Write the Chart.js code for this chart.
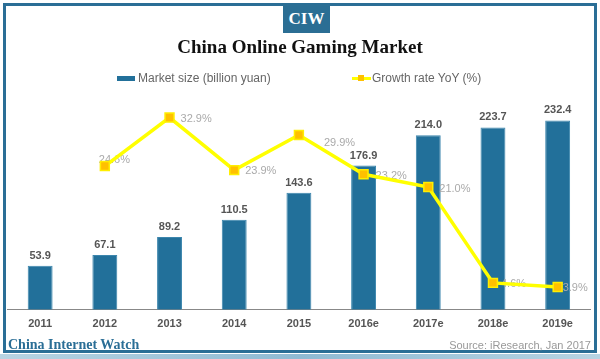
<!DOCTYPE html>
<html>
<head>
<meta charset="utf-8">
<script src="https://cdn.jsdelivr.net/npm/chart.js@4/dist/chart.umd.min.js"></script>
<style>
  html, body { margin: 0; padding: 0; background: #fff; }
  #wrap { position: relative; width: 600px; height: 359px; overflow: hidden; background: #fff; }
  #frame { position: absolute; left: 3px; top: 3px; width: 588px; height: 344px; border: 3px solid #2a6e96; }
  #strip { position: absolute; left: 0; top: 354px; width: 600px; height: 5px; background: linear-gradient(90deg, #b8d4e3, #8fbad3 50%, #b8d4e3); }
  #ciw { position: absolute; left: 283px; top: 4px; width: 47px; height: 29px; background: #2b6e94; color: #fff;
         font: bold 17px "Liberation Serif", "DejaVu Serif", serif; text-align: center; line-height: 30px; }
  #title { position: absolute; left: 0; top: 36px; width: 600px; text-align: center;
           font: bold 19px "Liberation Serif", "DejaVu Serif", serif; color: #111; }
  .leg { position: absolute; top: 71px; font: 12px "Liberation Sans", Arial, sans-serif; color: #666; white-space: nowrap; }
  .sw1 { position: absolute; left: 117px; top: 76px; width: 18px; height: 5px; background: #22709a; }
  .sw2 { position: absolute; left: 352px; top: 77px; width: 19px; height: 3px; background: #ffff00; }
  .sw2b { position: absolute; left: 358px; top: 75px; width: 6px; height: 6px; background: #ffc000; }
  #brand { position: absolute; left: 8px; top: 337px; font: bold 14px "Liberation Serif", "DejaVu Serif", serif; color: #2a6e96; }
  #source { position: absolute; right: 9px; top: 339px; font: 11px "Liberation Sans", Arial, sans-serif; color: #999; }
  canvas { position: absolute; left: 0; top: 0; }
</style>
</head>
<body>
<div id="wrap">
  <div id="frame"></div>
  <div id="strip"></div>
  <canvas id="c" width="600" height="359"></canvas>
  <div id="ciw">CIW</div>
  <div id="title">China Online Gaming Market</div>
  <div class="sw1"></div>
  <div class="leg" style="left:138px">Market size (billion yuan)</div>
  <div class="sw2"></div><div class="sw2b"></div>
  <div class="leg" style="left:372px">Growth rate YoY (%)</div>
  <div id="brand">China Internet Watch</div>
  <div id="source">Source: iResearch, Jan 2017</div>
</div>
<script>
const categories = ['2011', '2012', '2013', '2014', '2015', '2016e', '2017e', '2018e', '2019e'];
const marketSize = [53.9, 67.1, 89.2, 110.5, 143.6, 176.9, 214.0, 223.7, 232.4];
const growthRate = [null, 24.6, 32.9, 23.9, 29.9, 23.2, 21.0, 4.6, 3.9];

// label placement offsets (styling only)
const growthLabelOffsets = [null, [-6, -6], [11, 1], [11, 1], [25, 8], [12, 2], [11, 2], [8, 1], [5, 1]];

const labelPlugin = {
  id: 'labels',
  afterDatasetDraw(chart, args) {
    if (args.index !== 0) return;
    const ctx = chart.ctx;
    ctx.save();
    const barMeta = chart.getDatasetMeta(0);
    ctx.font = 'bold 11px "Liberation Sans", Arial, sans-serif';
    ctx.fillStyle = '#555';
    ctx.textAlign = 'center';
    ctx.textBaseline = 'middle';
    barMeta.data.forEach((el, i) => {
      ctx.fillText(marketSize[i].toFixed(1), el.x, el.y - 10);
    });
    const lineMeta = chart.getDatasetMeta(1);
    ctx.font = '11px "Liberation Sans", Arial, sans-serif';
    ctx.fillStyle = '#aaa';
    ctx.textAlign = 'left';
    lineMeta.data.forEach((el, i) => {
      if (growthRate[i] == null) return;
      const o = growthLabelOffsets[i];
      ctx.fillText(growthRate[i].toFixed(1) + '%', el.x + o[0], el.y + o[1]);
    });
    ctx.restore();
  }
};

new Chart(document.getElementById('c'), {
  data: {
    labels: categories,
    datasets: [
      {
        type: 'bar',
        label: 'Market size (billion yuan)',
        data: marketSize,
        backgroundColor: '#22709a',
        borderColor: '#3c86ad',
        borderWidth: 1,
        barPercentage: 0.385,
        categoryPercentage: 1,
        yAxisID: 'y',
        order: 1
      },
      {
        type: 'line',
        label: 'Growth rate YoY (%)',
        data: growthRate,
        borderColor: '#ffff00',
        borderWidth: 3.5,
        pointStyle: 'rect',
        pointRadius: 6.3,
        pointBackgroundColor: '#ffc000',
        pointBorderColor: '#ffee00',
        pointBorderWidth: 1.5,
        tension: 0,
        spanGaps: false,
        yAxisID: 'y2',
        order: 0
      }
    ]
  },
  options: {
    responsive: false,
    animation: false,
    layout: { padding: { left: 5, right: 10, top: 100, bottom: 20 } },
    plugins: { legend: { display: false }, title: { display: false }, tooltip: { enabled: false } },
    scales: {
      x: {
        grid: { display: false, drawTicks: false },
        border: { display: true, color: '#888', width: 1 },
        ticks: { color: '#555', font: { family: '"Liberation Sans", Arial, sans-serif', size: 11, weight: 'bold' }, padding: 8, maxRotation: 0 }
      },
      y: { display: false, min: 0, max: 257.4 },
      y2: { display: false, min: 0, max: 35.9, position: 'right' }
    }
  },
  plugins: [labelPlugin]
});
</script>
</body>
</html>
